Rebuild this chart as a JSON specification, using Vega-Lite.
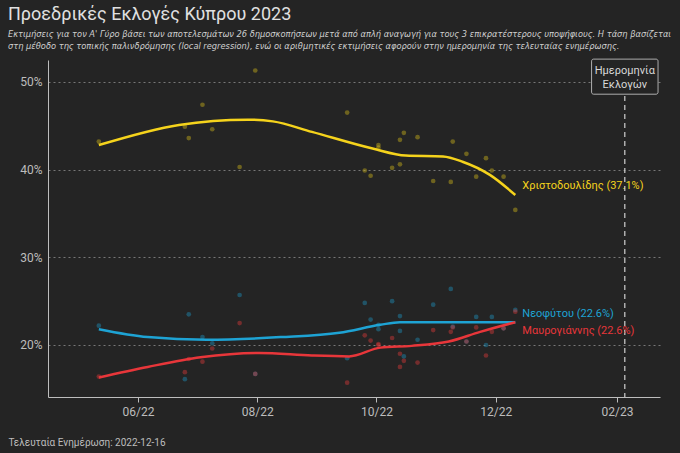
{
  "$schema": "https://vega.github.io/schema/vega-lite/v6.json",
  "width": 612,
  "height": 337,
  "autosize": "none",
  "padding": {"left": 48, "top": 60, "right": 20, "bottom": 56},
  "background": "#242424",
  "config": {
    "view": {"stroke": null},
    "font": "Roboto",
    "axis": {"labelColor": "#bdbdbd", "titleColor": "#bdbdbd", "labelFont": "Roboto", "titleFont": "Roboto"}
  },
  "title": {
    "text": "Προεδρικές Εκλογές Κύπρου 2023",
    "subtitle": ["Εκτιμήσεις για τον Α' Γύρο βάσει των αποτελεσμάτων 26 δημοσκοπήσεων μετά από απλή αναγωγή για τους 3 επικρατέστερους υποψήφιους. Η τάση βασίζεται", "στη μέθοδο της τοπικής παλινδρόμησης (local regression), ενώ οι αριθμητικές εκτιμήσεις αφορούν στην ημερομηνία της τελευταίας ενημέρωσης."],
    "anchor": "start",
    "frame": "group",
    "dx": -40,
    "offset": 8,
    "color": "#e0e0e0",
    "fontSize": 18,
    "fontWeight": "normal",
    "subtitleColor": "#cfcfcf",
    "subtitleFont": "DejaVu Sans Condensed",
    "subtitleFontSize": 9.2,
    "subtitleFontStyle": "italic",
    "subtitlePadding": 6
  },
  "datasets": {
    "polls": [
      {"date": "2022-05-12", "X": 43.2, "N": 22.2, "M": 16.4},
      {"date": "2022-06-25", "X": 44.9, "N": 16.1, "M": 16.9},
      {"date": "2022-06-27", "X": 43.6, "N": 23.5, "M": 18.4},
      {"date": "2022-07-04", "X": 47.4, "N": 20.9, "M": 18.1},
      {"date": "2022-07-09", "X": 44.6, "N": 20.2, "M": 19.6},
      {"date": "2022-07-23", "X": 40.3, "N": 25.7, "M": 22.5},
      {"date": "2022-07-31", "X": 51.3, "N": 16.7, "M": 16.7},
      {"date": "2022-09-16", "X": 46.5, "N": 18.5, "M": 15.7},
      {"date": "2022-09-25", "X": 39.9, "N": 24.8, "M": 21.1},
      {"date": "2022-09-28", "X": 39.3, "N": 22.9, "M": 20.5},
      {"date": "2022-10-02", "X": 42.8, "N": 22.3, "M": 20.1},
      {"date": "2022-10-02", "X": 42.5, "N": 21.8, "M": 20.0},
      {"date": "2022-10-09", "X": 40.2, "N": 25.0, "M": 20.8},
      {"date": "2022-10-13", "X": 43.4, "N": 23.3, "M": 19.0},
      {"date": "2022-10-13", "X": 40.6, "N": 21.6, "M": 17.5},
      {"date": "2022-10-15", "X": 44.2, "N": 18.7, "M": 18.2},
      {"date": "2022-10-22", "X": 43.7, "N": 20.6, "M": 18.0},
      {"date": "2022-10-30", "X": 38.7, "N": 24.6, "M": 21.7},
      {"date": "2022-11-08", "X": 38.6, "N": 26.4, "M": 21.5},
      {"date": "2022-11-09", "X": 43.2, "N": 22.1, "M": 22.0},
      {"date": "2022-11-16", "X": 41.8, "N": 20.4, "M": 20.4},
      {"date": "2022-11-21", "X": 39.2, "N": 23.2, "M": 22.0},
      {"date": "2022-11-26", "X": 41.3, "N": 20.0, "M": 18.8},
      {"date": "2022-11-29", "X": 39.9, "N": 23.2, "M": 21.5},
      {"date": "2022-12-05", "X": 39.2, "N": 21.9, "M": 21.9},
      {"date": "2022-12-11", "X": 35.4, "N": 24.0, "M": 23.8}
    ],
    "trend": [
      {"date": "2022-05-12", "c": "X", "v": 42.8},
      {"date": "2022-06-22", "c": "X", "v": 45.1},
      {"date": "2022-07-27", "c": "X", "v": 45.7},
      {"date": "2022-08-09", "c": "X", "v": 45.5},
      {"date": "2022-08-29", "c": "X", "v": 44.3},
      {"date": "2022-09-29", "c": "X", "v": 42.4},
      {"date": "2022-10-16", "c": "X", "v": 41.6},
      {"date": "2022-11-04", "c": "X", "v": 41.5},
      {"date": "2022-11-14", "c": "X", "v": 40.9},
      {"date": "2022-11-28", "c": "X", "v": 39.4},
      {"date": "2022-12-11", "c": "X", "v": 37.1},
      {"date": "2022-05-12", "c": "N", "v": 21.8},
      {"date": "2022-06-06", "c": "N", "v": 20.9},
      {"date": "2022-07-06", "c": "N", "v": 20.6},
      {"date": "2022-08-13", "c": "N", "v": 20.9},
      {"date": "2022-09-12", "c": "N", "v": 21.4},
      {"date": "2022-10-03", "c": "N", "v": 22.3},
      {"date": "2022-10-13", "c": "N", "v": 22.6},
      {"date": "2022-11-06", "c": "N", "v": 22.6},
      {"date": "2022-12-11", "c": "N", "v": 22.6},
      {"date": "2022-05-12", "c": "M", "v": 16.3},
      {"date": "2022-06-06", "c": "M", "v": 17.5},
      {"date": "2022-07-03", "c": "M", "v": 18.6},
      {"date": "2022-08-02", "c": "M", "v": 19.1},
      {"date": "2022-08-29", "c": "M", "v": 18.8},
      {"date": "2022-09-17", "c": "M", "v": 18.7},
      {"date": "2022-10-03", "c": "M", "v": 19.7},
      {"date": "2022-10-19", "c": "M", "v": 19.9},
      {"date": "2022-11-07", "c": "M", "v": 20.4},
      {"date": "2022-11-23", "c": "M", "v": 21.5},
      {"date": "2022-12-11", "c": "M", "v": 22.6}
    ],
    "labels": [
      {"date": "2022-12-11", "c": "X", "v": 37.1, "t": "Χριστοδουλίδης (37.1%)"},
      {"date": "2022-12-11", "c": "N", "v": 22.6, "t": "Νεοφύτου (22.6%)"},
      {"date": "2022-12-11", "c": "M", "v": 22.6, "t": "Μαυρογιάννης (22.6%)"}
    ],
    "election": [
      {"date": "2023-02-05", "start": "2023-01-19", "end": "2023-02-22", "top": 52.6, "bottom": 48.6, "mid": 51.2, "t": ["Ημερομηνία", "Εκλογών"]}
    ]
  },
  "encoding": {
    "x": {
      "field": "date", "type": "temporal",
      "scale": {"domain": ["2022-04-16", "2023-02-23"]},
      "axis": {
        "format": "%m/%y",
        "values": ["2022-06-01", "2022-08-01", "2022-10-01", "2022-12-01", "2023-02-01"],
        "grid": false, "domainColor": "#bdbdbd", "tickColor": "#bdbdbd", "labelFontSize": 12, "labelPadding": 4,
        "title": "Τελευταία Ενημέρωση: 2022-12-16", "titleFontSize": 10, "titleFontWeight": "normal",
        "titleAnchor": "start", "titleAlign": "left", "titleX": -40, "titleY": 40
      }
    }
  },
  "resolve": {"scale": {"color": "independent"}},
  "layer": [
    {
      "data": {"name": "polls"},
      "transform": [{"fold": ["X", "N", "M"], "as": ["c", "v"]}],
      "mark": {"type": "circle", "size": 22, "opacity": 0.45},
      "encoding": {
        "y": {
          "field": "v", "type": "quantitative",
          "scale": {"domain": [14.07, 52.5], "nice": false, "zero": false},
          "axis": {
            "values": [20, 30, 40, 50], "labelExpr": "datum.value + '%'",
            "title": null, "gridColor": "#777777", "gridDash": [2, 3], "gridWidth": 1,
            "domain": true, "domainColor": "#bdbdbd", "ticks": false, "labelFontSize": 12, "labelPadding": 6
          }
        },
        "color": {"field": "c", "type": "nominal", "scale": {"domain": ["X", "N", "M"], "range": ["#c9b21a", "#1f8fb8", "#d63a3a"]}, "legend": null}
      }
    },
    {
      "data": {"name": "election"},
      "mark": {"type": "rule", "color": "#d0d0d0", "strokeDash": [5, 4], "strokeWidth": 1.2},
      "encoding": {}
    },
    {
      "data": {"name": "election"},
      "mark": {"type": "rect", "fill": "#242424", "stroke": "#d0d0d0", "strokeWidth": 0.8, "cornerRadius": 2},
      "encoding": {
        "x": {"field": "start", "type": "temporal"},
        "x2": {"field": "end"},
        "y": {"field": "top", "type": "quantitative"},
        "y2": {"field": "bottom"}
      }
    },
    {
      "data": {"name": "election"},
      "mark": {"type": "text", "color": "#d8d8d8", "fontSize": 11, "lineHeight": 14, "align": "center", "baseline": "middle"},
      "encoding": {
        "y": {"field": "mid", "type": "quantitative"},
        "text": {"field": "t"}
      }
    },
    {
      "data": {"name": "trend"},
      "mark": {"type": "line", "strokeWidth": 2.5, "interpolate": "monotone"},
      "encoding": {
        "y": {"field": "v", "type": "quantitative"},
        "color": {"field": "c", "type": "nominal", "scale": {"domain": ["X", "N", "M"], "range": ["#f5d31c", "#1ea3d4", "#e8363a"]}, "legend": null}
      }
    },
    {
      "data": {"name": "labels"},
      "transform": [{"filter": "datum.c == 'X'"}],
      "mark": {"type": "text", "align": "left", "dx": 7, "dy": -9, "fontSize": 11, "color": "#f5d31c"},
      "encoding": {"y": {"field": "v", "type": "quantitative"}, "text": {"field": "t"}}
    },
    {
      "data": {"name": "labels"},
      "transform": [{"filter": "datum.c == 'N'"}],
      "mark": {"type": "text", "align": "left", "dx": 7, "dy": -8, "fontSize": 11, "color": "#1ea3d4"},
      "encoding": {"y": {"field": "v", "type": "quantitative"}, "text": {"field": "t"}}
    },
    {
      "data": {"name": "labels"},
      "transform": [{"filter": "datum.c == 'M'"}],
      "mark": {"type": "text", "align": "left", "dx": 7, "dy": 9, "fontSize": 11, "color": "#e8363a"},
      "encoding": {"y": {"field": "v", "type": "quantitative"}, "text": {"field": "t"}}
    }
  ]
}
